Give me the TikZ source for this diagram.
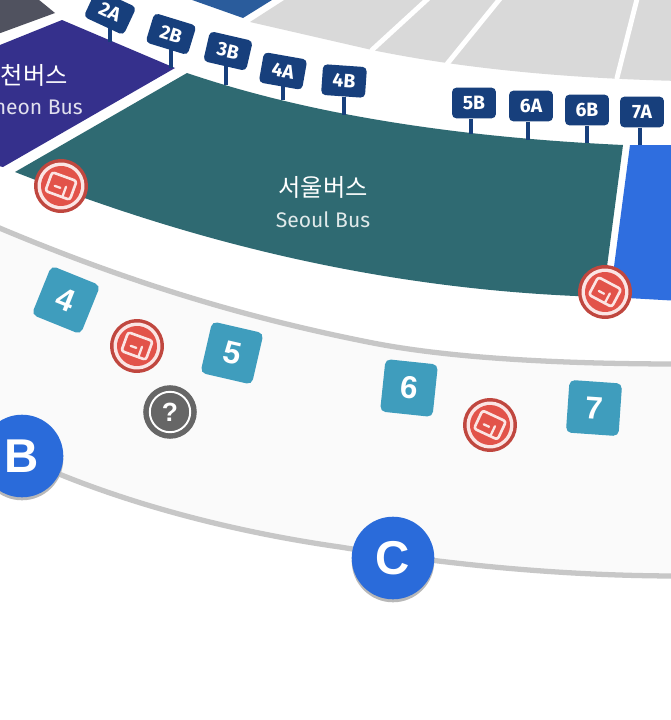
\documentclass[tikz,border=0pt]{standalone}
\usepackage{fontspec}
\setmainfont{Fira Sans}
\newfontfamily\korfont{Noto Sans CJK KR}
\newfontfamily\capfont{Liberation Sans}
\definecolor{tealbus}{HTML}{2F6A72}
\definecolor{purplebus}{HTML}{35308C}
\definecolor{bluebus}{HTML}{2F6EDF}
\definecolor{topblue}{HTML}{2A5C9C}
\definecolor{topgrey}{HTML}{50525F}
\definecolor{seatgrey}{HTML}{D9D9D9}
\definecolor{tagblue}{HTML}{173F7C}
\definecolor{numblue}{HTML}{3F9DBD}
\definecolor{cardred}{HTML}{E2534A}
\definecolor{capblue}{HTML}{2A6BDA}
\tikzset{
	tagbox/.style={fill=tagblue,text=white,rounded corners=2.5pt,minimum width=25pt,minimum height=17.5pt,inner sep=0pt,font=\fontsize{11}{11}\selectfont\bfseries},
	polearm/.style={draw=tagblue,line width=2.3pt,line cap=butt},
	numbox/.style={fill=numblue,text=white,rounded corners=3pt,minimum size=30pt,inner sep=0pt,font=\capfont\fontsize{18}{18}\selectfont\bfseries},
	capnode/.style={circle,fill=capblue,text=white,minimum size=47pt,inner sep=0pt,font=\capfont\fontsize{27}{27}\selectfont\bfseries},
	capshadow/.style={circle,fill=black!28,minimum size=47pt,inner sep=0pt},
	helpnode/.style={circle,fill=black!60,draw=white,line width=1.1pt,minimum size=23pt,inner sep=0pt,text=white,font=\capfont\fontsize{15}{15}\selectfont\bfseries},
	helpring/.style={circle,fill=black!60,minimum size=30.5pt,inner sep=0pt},
	walkline/.style={draw=black!22,line width=3pt},
	cardicon/.pic={
		\fill[cardred!85!black] (0,0) circle (27);
		\fill[white!85!cardred] (0,0) circle (23.5);
		\fill[cardred] (0,0) circle (20);
		\draw[white!85!cardred,line width=1.5pt,rounded corners=1.5pt] (-13,-10) rectangle (13,10);
		\draw[white!85!cardred,line width=1.3pt] (-6,2)--(0,2) (5,-1)--(5,10);
	}
}
\begin{document}
\begin{tikzpicture}[x=0.02cm,y=-0.02cm,line join=round,line cap=round]
	\useasboundingbox[fill=white] (0,0) rectangle (671,720);
	% plaza band and its two edges
	\fill[black!2] (-10,224) .. controls (110,275) and (230,315) .. (373,343) .. controls (440,356) and (540,364) .. (680,364)--(680,576) .. controls (540,576) and (420,560) .. (340,547) .. controls (220,530) and (90,495) .. (-10,442)--cycle;
	\draw[walkline] (-10,224) .. controls (110,275) and (230,315) .. (373,343) .. controls (440,356) and (540,364) .. (680,364);
	\draw[walkline] (-10,442) .. controls (90,495) and (220,530) .. (340,547) .. controls (420,560) and (540,576) .. (680,576);
	% sections at the top
	\fill[topgrey] (-5,35)--(55,13)--(33,-5)--(-5,-5)--cycle;
	\fill[topblue] (178,-5)--(243,18)--(280,-5)--cycle;
	\fill[seatgrey] (250,22)--(372,50) .. controls (450,66) and (550,78) .. (680,81)--(680,-5)--(292,-5)--cycle;
	\draw[white,line width=2.8pt] (372,50)--(432,-5) (447,64)--(503,-5) (617,78)--(638,-5);
	% bus areas
	\fill[purplebus] (-5,165)--(3,167)--(175,68)--(62,20)--(-5,47)--cycle;
	\fill[tealbus] (187,73) .. controls (290,108) and (430,136) .. (623,145)--(603,297) .. controls (350,290) and (150,225) .. (15,172)--cycle;
	\fill[bluebus] (630,145)--(680,145)--(680,301)--(610,297)--cycle;
	\node[text=white,anchor=east,font=\korfont\fontsize{13.8}{13.8}\selectfont] (incheonkr) at (74,75) {천버스};
	\node[text=white!85!purplebus,anchor=east,font=\fontsize{12}{12}\selectfont] (incheonen) at (89,107) {heon Bus};
	\node[text=white,font=\korfont\fontsize{13.8}{13.8}\selectfont] (seoulkr) at (323,187) {서울버스};
	\node[text=white!85!tealbus,font=\fontsize{12}{12}\selectfont] (seoulen) at (323,220) {Seoul Bus};
	% gate tags
	\coordinate (p2A) at (110,42);
	\coordinate (p2B) at (171,68);
	\coordinate (p3B) at (226,85);
	\coordinate (p4A) at (283,100);
	\coordinate (p4B) at (344,115);
	\coordinate (p5B) at (471,134);
	\coordinate (p6A) at (528,140);
	\coordinate (p6B) at (587,143);
	\coordinate (p7A) at (640,145);
	\node[tagbox,rotate=-25] (t2A) at (110,12) {2A};
	\node[tagbox,rotate=-17] (t2B) at (171,34) {2B};
	\node[tagbox,rotate=-13] (t3B) at (228,51) {3B};
	\node[tagbox,rotate=-10] (t4A) at (283,71) {4A};
	\node[tagbox,rotate=-4] (t4B) at (344,81) {4B};
	\node[tagbox] (t5B) at (474,103) {5B};
	\node[tagbox] (t6A) at (531,106) {6A};
	\node[tagbox] (t6B) at (587,110) {6B};
	\node[tagbox] (t7A) at (642,112) {7A};
	\draw[polearm] (p2A |- t2A.south)--(p2A) (p2B |- t2B.south)--(p2B) (p3B |- t3B.south)--(p3B) (p4A |- t4A.south)--(p4A) (p4B |- t4B.south)--(p4B) (p5B |- t5B.south)--(p5B) (p6A |- t6A.south)--(p6A) (p6B |- t6B.south)--(p6B) (p7A |- t7A.south)--(p7A);
	% numbered gates
	\node[numbox,rotate=-22] (n4) at (66,300) {4};
	\node[numbox,rotate=-13] (n5) at (232,353) {5};
	\node[numbox,rotate=-6] (n6) at (409,388) {6};
	\node[numbox,rotate=-4] (n7) at (594,408) {7};
	% ticket booths
	\pic[rotate=-20] at (61,186) {cardicon};
	\pic[rotate=-28] at (605,292) {cardicon};
	\pic[rotate=-20] at (137,346) {cardicon};
	\pic[rotate=-25] at (490,425) {cardicon};
	\node[helpring] (helpout) at (170,412) {};
	\node[helpnode] (help) at (170,412) {?};
	% entrances
	\node[capshadow] (bshadow) at (22,459) {};
	\node[capnode] (capB) at (22,456) {B};
	\node[capshadow] (cshadow) at (393,561) {};
	\node[capnode] (capC) at (393,558) {C};
\end{tikzpicture}
\end{document}
